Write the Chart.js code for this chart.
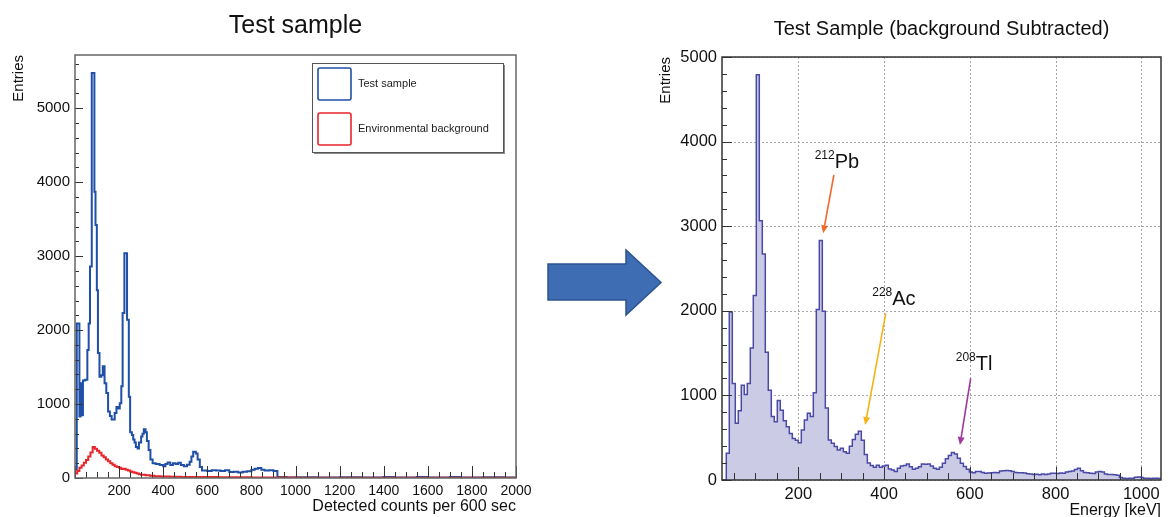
<!DOCTYPE html>
<html>
<head>
<meta charset="utf-8">
<script src="https://cdn.jsdelivr.net/npm/chart.js@4.4.1/dist/chart.umd.min.js"></script>
<style>
  html, body { margin: 0; padding: 0; background: #fff; overflow: hidden; }
  #stage { position: relative; width: 1174px; height: 517px; }
  #leftWrap { position: absolute; left: 0; top: 0; width: 545px; height: 517px; }
  #rightWrap { position: absolute; left: 640px; top: 0; width: 534px; height: 517px; }
  #bigArrow { position: absolute; left: 0; top: 0; }
</style>
</head>
<body>
<div id="stage">
  <div id="leftWrap"><canvas id="leftChart"></canvas></div>
  <svg id="bigArrow" width="1174" height="517">
    <polygon points="548,264 626,264 626,250 661,282.5 626,315 626,300 548,300"
             fill="#3e6db3" stroke="#2d5391" stroke-width="1.5"/>
  </svg>
  <div id="rightWrap"><canvas id="rightChart"></canvas></div>
</div>
<script>
const FONT = "'Liberation Sans', Arial, Helvetica, sans-serif";

// left panel: raw spectrum, variable-width bins (edges has one more entry than counts)
const blueEdges = [0, 8, 20, 25, 31, 36, 46, 56, 62, 68, 76, 88, 93, 99, 104, 111, 119, 126, 134, 142,
  150, 158, 166, 180, 188, 196, 203, 210, 216, 224, 236, 244, 250, 258, 264, 270, 276, 284, 290, 300,
  306, 312, 320, 326, 334, 342, 352, 366, 384, 400, 410, 420, 432, 444, 456, 468, 480, 494, 508, 520,
  528, 536, 548, 556, 566, 576, 600, 620, 640, 660, 680, 700, 720, 740, 760, 780, 800, 815, 830, 845,
  860, 880, 900, 918, 960, 1000, 1100, 1200, 1300, 1400, 1450, 1550, 1600, 1700, 1750, 1850, 1950, 2000];
const blueCounts = [120, 2090, 830, 1280, 850, 1320, 1330, 1730, 2090, 2860, 5475, 3870, 3420, 2540, 1690, 1370, 1390, 1510, 1280,
  1150, 900, 840, 790, 880, 960, 940, 1010, 1240, 2230, 3040, 2140, 1100, 620, 580, 520, 480, 420, 400, 480,
  560, 600, 660, 620, 500, 380, 250, 200, 190, 175, 160, 190, 210, 175, 200, 190, 205, 175, 160, 180,
  220, 290, 356, 330, 250, 150, 100, 95, 105, 100, 95, 105, 80, 85, 75, 85, 90, 110, 125, 135,
  110, 100, 105, 95, 12, 8, 10, 6, 9, 7, 15, 8, 14, 7, 12, 6, 10, 6];

const redEdges = [0, 10, 20, 30, 40, 50, 60, 70, 80, 90, 100, 110, 120, 130, 140, 150, 160, 170, 180, 190,
  200, 210, 220, 230, 240, 250, 260, 270, 280, 290, 300, 320, 340, 360, 390, 430, 480, 550, 650, 800, 1000, 2000];
const redCounts = [60, 95, 140, 170, 205, 245, 290, 345, 420, 395, 370, 340, 305, 280, 250, 225, 200, 178, 160,
  150, 138, 122, 125, 110, 100, 88, 78, 70, 60, 52, 45, 38, 30, 25, 20, 17, 14, 12, 9, 7, 5];

// right panel: background subtracted, fixed 7 keV bins starting at 18 keV
const rightStart = 18;
const rightWidth = 7;
const rightCounts = [
  0, 0, 315, 1985, 1140, 670, 820, 1120, 1010, 1140,
  1560, 2180, 4790, 3065, 2670, 1510, 1060, 750, 690, 940,
  825, 700, 630, 550, 490, 470, 440, 590, 710, 790,
  750, 1030, 2015, 2830, 1995, 850, 474, 435, 395, 355,
  375, 335, 316, 400, 480, 540, 575, 470, 300, 200,
  170, 150, 175, 150, 165, 175, 130, 118, 99, 138,
  166, 170, 190, 158, 126, 140, 158, 190, 185, 190,
  166, 140, 126, 150, 198, 250, 290, 324, 308, 257,
  198, 160, 126, 95, 87, 99, 99, 90, 79, 82,
  87, 90, 87, 105, 110, 112, 108, 100, 90, 87,
  85, 82, 75, 70, 65, 68, 62, 70, 66, 72,
  79, 80, 78, 82, 80, 95, 100, 105, 125, 138,
  110, 88, 85, 80, 78, 95, 100, 96, 70, 66,
  65, 62, 55, 30, 20, 18, 22, 20, 32, 35,
  30, 20, 22, 18, 20, 22, 18];

const leftTitle = 'Test sample';
const rightTitle = 'Test Sample (background Subtracted)';
const leftXTitle = 'Detected counts per 600 sec';
const rightXTitle = 'Energy [keV]';
const yTitle = 'Entries';

const peakNotes = [
  {mass: '212', el: 'Pb', color: '#f0692a', at: [290, 3783], from: [283, 3605], to: [258, 2916]},
  {mass: '228', el: 'Ac', color: '#f6b318', at: [423, 2163], from: [404, 1970], to: [356, 650]},
  {mass: '208', el: 'Tl', color: '#a0399e', at: [610, 1395], from: [602, 1202], to: [577, 414]}
];

function histPoints(edges, counts, closed) {
  const pts = closed ? [{x: edges[0], y: 0}] : [];
  counts.forEach((c, i) => {
    pts.push({x: edges[i], y: c}, {x: edges[i + 1], y: c});
  });
  if (closed) pts.push({x: edges[edges.length - 1], y: 0});
  return pts;
}

const rightEdges = rightCounts.map((_, i) => rightStart + i * rightWidth);
rightEdges.push(rightStart + rightCounts.length * rightWidth);

// ROOT-like frame: inside tick marks, optional dashed grid, frame box, centred title
const rootFrame = {
  id: 'rootFrame',
  beforeDatasetsDraw(chart, args, o) {
    if (!o.grid) return;
    const {ctx, chartArea: a, scales: {x, y}} = chart;
    ctx.save();
    ctx.strokeStyle = o.grid;
    ctx.lineWidth = 1;
    ctx.setLineDash([2, 2]);
    ctx.beginPath();
    x.ticks.forEach(t => {
      if (t.value % o.xMajor !== 0) return;
      const p = Math.round(x.getPixelForValue(t.value)) + 0.5;
      ctx.moveTo(p, a.top); ctx.lineTo(p, a.bottom);
    });
    y.ticks.forEach(t => {
      if (t.value % o.yMajor !== 0) return;
      const p = Math.round(y.getPixelForValue(t.value)) + 0.5;
      ctx.moveTo(a.left, p); ctx.lineTo(a.right, p);
    });
    ctx.stroke();
    ctx.restore();
  },
  afterDatasetsDraw(chart, args, o) {
    const {ctx, chartArea: a, scales: {x, y}} = chart;
    ctx.save();
    ctx.strokeStyle = o.tickColor;
    ctx.lineWidth = 1;
    ctx.beginPath();
    x.ticks.forEach(t => {
      if (t.value % o.xMinor !== 0) return;
      const p = Math.round(x.getPixelForValue(t.value)) + 0.5;
      const len = t.value % o.xMajor === 0 ? o.xTick[0] : o.xTick[1];
      ctx.moveTo(p, a.bottom); ctx.lineTo(p, a.bottom - len);
    });
    y.ticks.forEach(t => {
      if (t.value % o.yMinor !== 0) return;
      const p = Math.round(y.getPixelForValue(t.value)) + 0.5;
      const len = t.value % o.yMajor === 0 ? o.yTick[0] : o.yTick[1];
      ctx.moveTo(a.left, p); ctx.lineTo(a.left + len, p);
    });
    ctx.stroke();
    ctx.strokeStyle = o.frameColor;
    ctx.lineWidth = o.frameWidth;
    ctx.strokeRect(a.left, a.top, a.right - a.left, a.bottom - a.top);
    ctx.fillStyle = '#111';
    ctx.font = o.titleSize + 'px ' + FONT;
    ctx.textAlign = 'center';
    ctx.textBaseline = 'alphabetic';
    ctx.fillText(o.title, (a.left + a.right) / 2, o.titleBase);
    ctx.restore();
  }
};

const rootLegend = {
  id: 'rootLegend',
  afterDraw(chart, args, o) {
    const {ctx} = chart;
    const [x0, y0, x1, y1] = o.box;
    ctx.save();
    ctx.fillStyle = '#8c8c8c';
    ctx.fillRect(x0 + 2, y1, x1 - x0, 2);
    ctx.fillRect(x1, y0 + 2, 2, y1 - y0);
    ctx.fillStyle = '#fff';
    ctx.fillRect(x0, y0, x1 - x0, y1 - y0);
    ctx.strokeStyle = '#555';
    ctx.lineWidth = 1;
    ctx.strokeRect(x0 + 0.5, y0 + 0.5, x1 - x0, y1 - y0);
    chart.data.datasets.forEach((ds, i) => {
      const top = y0 + 5 + i * 45;
      ctx.strokeStyle = ds.borderColor;
      ctx.lineWidth = 1.6;
      ctx.beginPath();
      ctx.roundRect(x0 + 6, top, 33, 32, 2);
      ctx.stroke();
      ctx.fillStyle = '#222';
      ctx.font = '11px ' + FONT;
      ctx.textAlign = 'left';
      ctx.textBaseline = 'middle';
      ctx.fillText(ds.label, x0 + 46, top + 16);
    });
    ctx.restore();
  }
};

const peakLabels = {
  id: 'peakLabels',
  afterDatasetsDraw(chart) {
    const {ctx, scales: {x, y}} = chart;
    ctx.save();
    peakNotes.forEach(n => {
      const cx = x.getPixelForValue(n.at[0]);
      const cy = y.getPixelForValue(n.at[1]);
      ctx.font = '12px ' + FONT;
      const wm = ctx.measureText(n.mass).width;
      ctx.font = '20px ' + FONT;
      const we = ctx.measureText(n.el).width;
      const sx = cx - (wm + we) / 2;
      ctx.fillStyle = '#111';
      ctx.textAlign = 'left';
      ctx.textBaseline = 'alphabetic';
      ctx.fillText(n.el, sx + wm, cy + 8);
      ctx.font = '12px ' + FONT;
      ctx.fillText(n.mass, sx, cy - 1);

      const x0 = x.getPixelForValue(n.from[0]), y0 = y.getPixelForValue(n.from[1]);
      const x1 = x.getPixelForValue(n.to[0]), y1 = y.getPixelForValue(n.to[1]);
      const ang = Math.atan2(y1 - y0, x1 - x0);
      const hl = 8, hw = 3.5;
      const bx = x1 - hl * Math.cos(ang), by = y1 - hl * Math.sin(ang);
      ctx.strokeStyle = n.color;
      ctx.fillStyle = n.color;
      ctx.lineWidth = 1.6;
      ctx.beginPath();
      ctx.moveTo(x0, y0); ctx.lineTo(bx, by);
      ctx.stroke();
      ctx.beginPath();
      ctx.moveTo(x1, y1);
      ctx.lineTo(bx + hw * Math.sin(ang), by - hw * Math.cos(ang));
      ctx.lineTo(bx - hw * Math.sin(ang), by + hw * Math.cos(ang));
      ctx.closePath();
      ctx.fill();
    });
    ctx.restore();
  }
};

function axisTicks(size, step, keep, pad) {
  return {
    stepSize: step, autoSkip: false, includeBounds: false, maxRotation: 0, minRotation: 0, padding: pad,
    color: '#111', font: {family: FONT, size: size},
    callback: v => keep(v) ? v : ''
  };
}

new Chart(document.getElementById('leftChart'), {
  type: 'line',
  data: {
    datasets: [
      {label: 'Test sample', data: histPoints(blueEdges, blueCounts, false),
       borderColor: '#1f4fa6', borderWidth: 2, pointRadius: 0, fill: false, order: 1},
      {label: 'Environmental background', data: histPoints(redEdges, redCounts, false),
       borderColor: '#e8252a', borderWidth: 2, pointRadius: 0, fill: false, order: 0}
    ]
  },
  options: {
    animation: false, responsive: true, maintainAspectRatio: false,
    layout: {padding: {top: 55, right: 29, left: 0, bottom: 0}},
    plugins: {
      legend: {display: false}, tooltip: {enabled: false},
      rootFrame: {title: leftTitle, titleSize: 25, titleBase: 33, tickColor: '#333',
        frameColor: '#666', frameWidth: 1.5, xMajor: 200, xMinor: 50, yMajor: 1000, yMinor: 200,
        xTick: [12, 6], yTick: [8, 4]},
      rootLegend: {box: [312, 63, 503, 152]}
    },
    scales: {
      x: {
        type: 'linear', min: 0, max: 2000,
        grid: {display: false, drawTicks: false}, border: {display: false},
        ticks: axisTicks(14, 50, v => v % 200 === 0 && v > 0, 5),
        title: {display: true, text: leftXTitle, align: 'end', color: '#111',
          font: {family: FONT, size: 16}, padding: {top: 0, bottom: 1}},
        afterFit: s => { s.height = 39; }
      },
      y: {
        type: 'linear', min: 0, max: 5720,
        grid: {display: false, drawTicks: false}, border: {display: false},
        ticks: axisTicks(15, 200, v => v % 1000 === 0, 5),
        title: {display: true, text: yTitle, align: 'end', color: '#111',
          font: {family: FONT, size: 15}, padding: {top: 10, bottom: 0}},
        afterFit: s => { s.width = 75; }
      }
    }
  },
  plugins: [rootFrame, rootLegend]
});

new Chart(document.getElementById('rightChart'), {
  type: 'line',
  data: {
    datasets: [
      {label: 'Subtracted', data: histPoints(rightEdges, rightCounts, true),
       borderColor: '#4a4aa6', backgroundColor: '#cbcbe5', borderWidth: 1.5,
       pointRadius: 0, fill: 'origin'}
    ]
  },
  options: {
    animation: false, responsive: true, maintainAspectRatio: false,
    layout: {padding: {top: 57, right: 13, left: 0, bottom: 0}},
    plugins: {
      legend: {display: false}, tooltip: {enabled: false},
      rootFrame: {title: rightTitle, titleSize: 20, titleBase: 35, tickColor: '#333',
        frameColor: '#333', frameWidth: 1.5, grid: '#a8a8a8',
        xMajor: 200, xMinor: 50, yMajor: 1000, yMinor: 200, xTick: [13, 7], yTick: [10, 5]}
    },
    scales: {
      x: {
        type: 'linear', min: 22, max: 1046,
        grid: {display: false, drawTicks: false}, border: {display: false},
        ticks: axisTicks(16.5, 50, v => v % 200 === 0 && v > 0, 5),
        title: {display: true, text: rightXTitle, align: 'end', color: '#111',
          font: {family: FONT, size: 16}, padding: {top: 0, bottom: -3}},
        afterFit: s => { s.height = 37; }
      },
      y: {
        type: 'linear', min: 0, max: 5000,
        grid: {display: false, drawTicks: false}, border: {display: false},
        ticks: axisTicks(16.5, 200, v => v % 1000 === 0, 5),
        title: {display: true, text: yTitle, align: 'end', color: '#111',
          font: {family: FONT, size: 15}, padding: {top: 17, bottom: 0}},
        afterFit: s => { s.width = 82; }
      }
    }
  },
  plugins: [rootFrame, peakLabels]
});
</script>
</body>
</html>
